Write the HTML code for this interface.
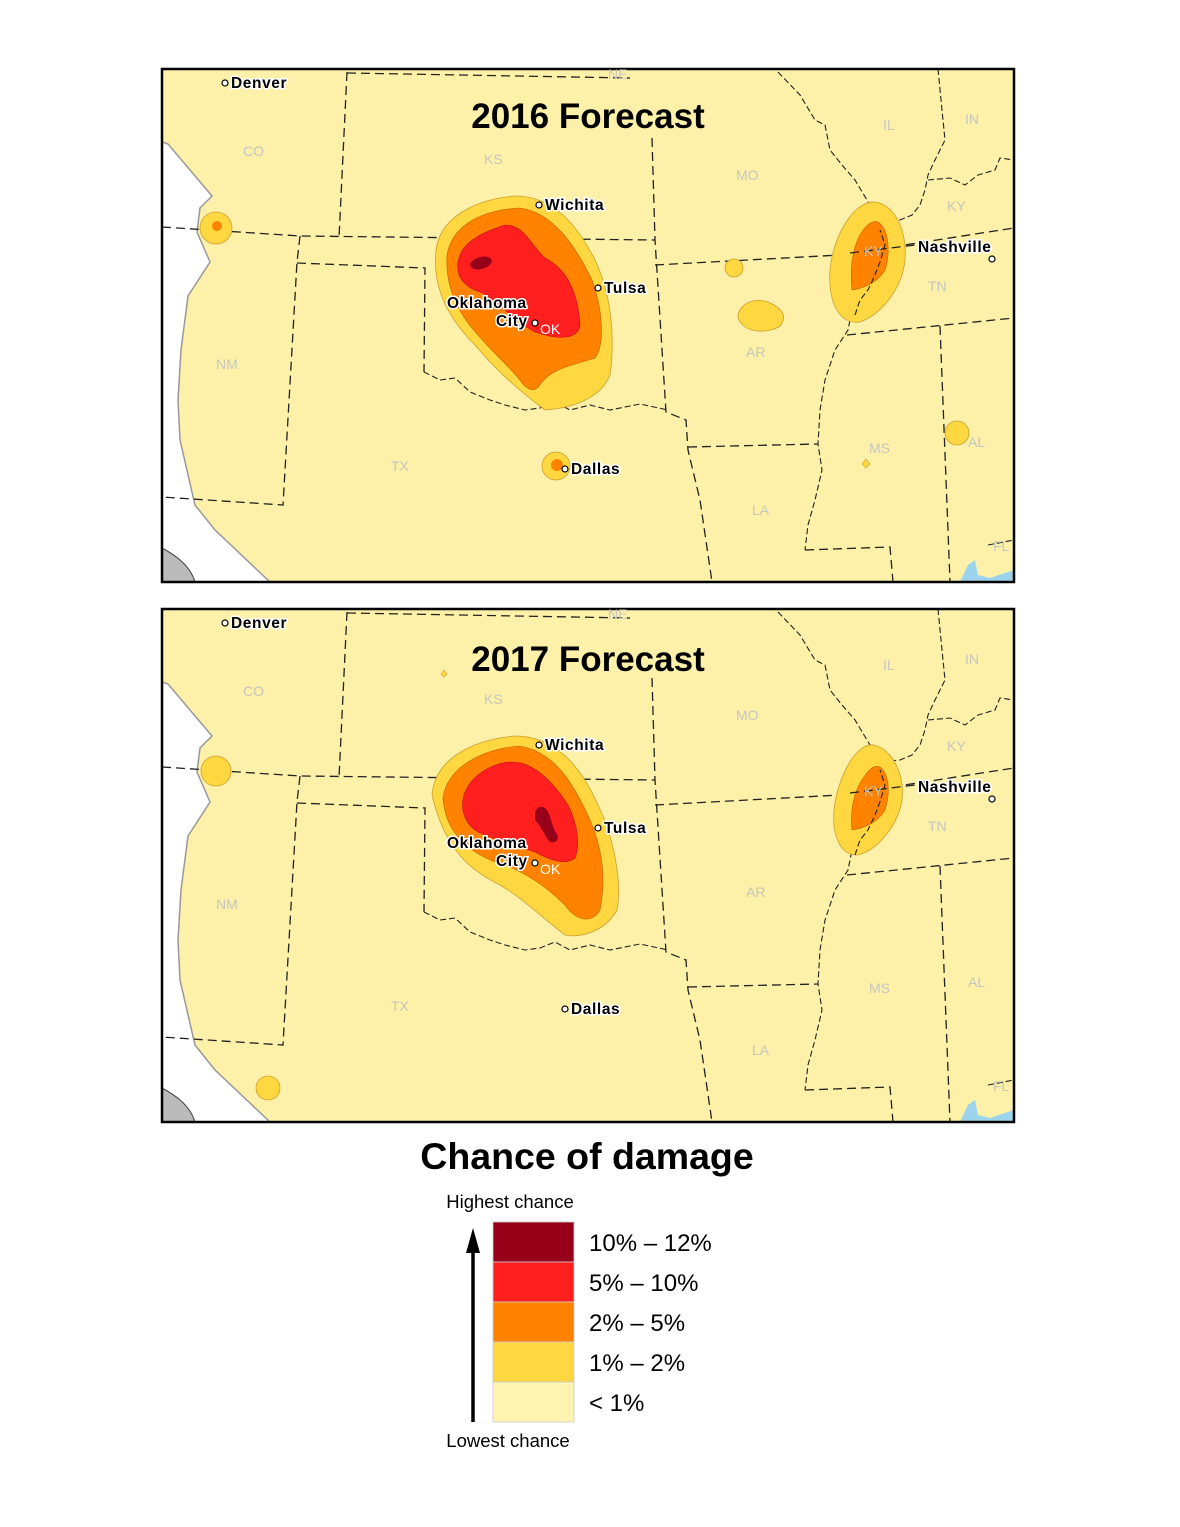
<!DOCTYPE html>
<html><head><meta charset="utf-8"><style>
html,body{margin:0;padding:0;background:#fff}
svg{display:block}
.st{font-family:"Liberation Sans",sans-serif;font-size:14px;fill:#c6c6c0}
.ct{font-family:"Liberation Sans",sans-serif;font-size:15.5px;font-weight:bold;fill:#000;stroke:#fff;stroke-width:3px;paint-order:stroke;letter-spacing:0.6px}
.tt{font-family:"Liberation Sans",sans-serif;font-size:35px;font-weight:bold;fill:#000}
.bd{fill:none;stroke:#222;stroke-width:1.3;stroke-dasharray:9 5}
.jg{fill:none;stroke:#222;stroke-width:1.1;stroke-dasharray:6 3}
.lg{font-family:"Liberation Sans",sans-serif;font-size:24px;fill:#000}
.cy{fill:#fff;stroke:#000;stroke-width:1.2}
</style></head><body>
<svg width="1180" height="1527" viewBox="0 0 1180 1527" xmlns="http://www.w3.org/2000/svg">
<defs><clipPath id="c1"><rect x="162" y="69" width="852" height="513"/></clipPath>
<clipPath id="c2"><rect x="162" y="609" width="852" height="513"/></clipPath></defs>

<!-- MAP 1 -->
<g clip-path="url(#c1)">
<rect x="162" y="69" width="852" height="513" fill="#fdf0a8"/>
<path d="M162,142 L168,144 L212,196 L200,208 L197,232 L210,262 L188,296 L181,350 L178,400 L180,440 L195,505 L215,530 L270,582 L162,582 Z" fill="#fff" stroke="#999" stroke-width="1.5"/>
<path d="M162,548 C175,555 190,565 195,582 L162,582 Z" fill="#bbb" stroke="#444"/>
<path d="M960,582 L968,565 L975,560 L978,575 L990,578 L1014,570 L1014,582 Z" fill="#9cd4ee"/>
<path class="bd" d="M347,72 L339,238"/>
<path class="bd" d="M347,73 L630,78"/>
<path class="bd" d="M162,227 L300,236 L655,240"/>
<path class="bd" d="M300,236 L297,262 L283,505 L162,497"/>
<path class="bd" d="M297,263 L425,268 L424,372"/>
<path class="jg" d="M424,372 L440,380 L455,378 L470,392 L490,400 L505,405 L525,410 L540,408 L555,402 L570,410 L590,405 L610,410 L640,404 L668,410"/>
<path class="bd" d="M652,138 L655,240 L666,412 L686,420 L688,450 L700,500 L712,582"/>
<path class="bd" d="M688,447 L818,444"/>
<path class="bd" d="M655,265 L840,255 L853,253 L1014,228"/>
<path class="jg" d="M778,72 L800,95 L815,120 L825,125 L830,150 L842,165 L855,180 L870,205 L878,222 L868,240 L860,262 L856,290 L852,310 L848,330 L835,350 L825,380 L820,410 L818,444 L822,470 L815,500 L808,525 L805,550"/>
<path class="bd" d="M805,550 L890,547 L893,582"/>
<path class="bd" d="M847,335 L1014,318"/>
<path class="bd" d="M940,326 L950,582"/>
<path class="jg" d="M938,69 L942,110 L945,140 L935,160 L928,175 L925,190 L920,205 L912,215 L900,220 L880,222"/>
<path class="jg" d="M928,180 L950,178 L965,185 L978,175 L995,170 L1000,158 L1014,160"/>
<path class="jg" d="M988,545 L1014,540"/>
<!-- contours 2016 -->
<path d="M436,250 C440,220 470,200 515,196 C550,196 575,220 595,260 C612,295 615,340 610,375 C600,400 570,408 545,410 C525,395 500,375 475,345 C450,320 432,290 436,250 Z" fill="#ffd740" stroke="#c9a030" stroke-width="0.8"/>
<path d="M447,255 C452,225 482,210 520,208 C552,212 575,245 592,280 C603,310 605,345 595,358 C575,365 550,368 540,385 C535,392 528,392 520,380 C505,362 490,350 478,335 C460,315 445,290 447,255 Z" fill="#ff8300" stroke="#c06000" stroke-width="0.6"/>
<path d="M458,262 C462,240 485,232 505,225 C525,225 530,245 545,258 C565,268 578,290 580,325 C578,340 558,340 535,332 C512,320 498,300 480,292 C465,287 456,278 458,262 Z" fill="#ff1f1f" stroke="#c01010" stroke-width="0.6"/>
<ellipse cx="481" cy="263" rx="11" ry="6" transform="rotate(-15 481 263)" fill="#960019"/>
<circle cx="216" cy="228" r="16" fill="#ffd740" stroke="#c9a030" stroke-width="0.8"/>
<circle cx="217" cy="226" r="5" fill="#ff8300"/>
<circle cx="556" cy="466" r="14" fill="#ffd740" stroke="#c9a030" stroke-width="0.8"/>
<circle cx="557" cy="465" r="6" fill="#ff8300"/>
<circle cx="734" cy="268" r="9" fill="#ffd740" stroke="#c9a030" stroke-width="0.8"/>
<path d="M738,318 C738,305 752,297 768,302 C782,308 788,316 780,326 C770,333 745,335 738,318 Z" fill="#ffd740" stroke="#c9a030" stroke-width="0.8"/>
<circle cx="957" cy="433" r="12" fill="#ffd740" stroke="#c9a030" stroke-width="0.8"/>
<path d="M866,459 L870,464 L866,468 L862,464 Z" fill="#ffd740" stroke="#c9a030" stroke-width="0.6"/>
<path d="M875,202 C895,205 907,230 905,260 C902,290 880,315 860,322 C838,325 828,300 830,270 C833,235 855,200 875,202 Z" fill="#ffd740" stroke="#c9a030" stroke-width="0.8"/>
<path d="M878,222 C890,230 890,255 885,270 C878,282 865,288 852,290 C850,270 852,250 860,235 C866,225 872,220 878,222 Z" fill="#ff8300" stroke="#c06000" stroke-width="0.6"/>
<path class="jg" d="M855,315 L860,300 L868,290 L875,275 L880,262 L885,245 L880,230" />
<path class="bd" d="M850,253 L915,245"/>
</g>
<rect x="162" y="69" width="852" height="513" fill="none" stroke="#000" stroke-width="2.5"/>
<g>
<text class="st" x="243" y="156">CO</text><text class="st" x="484" y="164">KS</text><text class="st" x="608" y="79">NE</text>
<text class="st" x="736" y="180">MO</text><text class="st" x="883" y="130">IL</text><text class="st" x="965" y="124">IN</text>
<text class="st" x="947" y="211">KY</text><text class="st" x="928" y="291">TN</text><text class="st" x="864" y="256">KY</text>
<text class="st" x="216" y="369">NM</text><text class="st" x="540" y="334" style="fill:#fff">OK</text>
<text class="st" x="746" y="357">AR</text><text class="st" x="391" y="471">TX</text><text class="st" x="869" y="453">MS</text>
<text class="st" x="968" y="447">AL</text><text class="st" x="752" y="515">LA</text><text class="st" x="993" y="551">FL</text>
<text class="tt" x="588" y="128" text-anchor="middle">2016 Forecast</text>
<circle class="cy" cx="225" cy="83" r="3"/><text class="ct" x="231" y="88">Denver</text>
<circle class="cy" cx="539" cy="205" r="3"/><text class="ct" x="545" y="210">Wichita</text>
<circle class="cy" cx="598" cy="288" r="3"/><text class="ct" x="604" y="293">Tulsa</text>
<text class="ct" x="447" y="308">Oklahoma</text><text class="ct" x="496" y="326">City</text>
<circle class="cy" cx="535" cy="323" r="3"/>
<circle class="cy" cx="565" cy="469" r="3"/><text class="ct" x="571" y="474">Dallas</text>
<text class="ct" x="918" y="252">Nashville</text><circle class="cy" cx="992" cy="259" r="3"/>
</g>

<!-- MAP 2 -->
<g clip-path="url(#c2)">
<g transform="translate(0,540)">
<rect x="162" y="69" width="852" height="513" fill="#fdf0a8"/>
<path d="M162,142 L168,144 L212,196 L200,208 L197,232 L210,262 L188,296 L181,350 L178,400 L180,440 L195,505 L215,530 L270,582 L162,582 Z" fill="#fff" stroke="#999" stroke-width="1.5"/>
<path d="M162,548 C175,555 190,565 195,582 L162,582 Z" fill="#bbb" stroke="#444"/>
<path d="M960,582 L968,565 L975,560 L978,575 L990,578 L1014,570 L1014,582 Z" fill="#9cd4ee"/>
<path class="bd" d="M347,72 L339,238"/>
<path class="bd" d="M347,73 L630,78"/>
<path class="bd" d="M162,227 L300,236 L655,240"/>
<path class="bd" d="M300,236 L297,262 L283,505 L162,497"/>
<path class="bd" d="M297,263 L425,268 L424,372"/>
<path class="jg" d="M424,372 L440,380 L455,378 L470,392 L490,400 L505,405 L525,410 L540,408 L555,402 L570,410 L590,405 L610,410 L640,404 L668,410"/>
<path class="bd" d="M652,138 L655,240 L666,412 L686,420 L688,450 L700,500 L712,582"/>
<path class="bd" d="M688,447 L818,444"/>
<path class="bd" d="M655,265 L840,255 L853,253 L1014,228"/>
<path class="jg" d="M778,72 L800,95 L815,120 L825,125 L830,150 L842,165 L855,180 L870,205 L878,222 L868,240 L860,262 L856,290 L852,310 L848,330 L835,350 L825,380 L820,410 L818,444 L822,470 L815,500 L808,525 L805,550"/>
<path class="bd" d="M805,550 L890,547 L893,582"/>
<path class="bd" d="M847,335 L1014,318"/>
<path class="bd" d="M940,326 L950,582"/>
<path class="jg" d="M938,69 L942,110 L945,140 L935,160 L928,175 L925,190 L920,205 L912,215 L900,220 L880,222"/>
<path class="jg" d="M928,180 L950,178 L965,185 L978,175 L995,170 L1000,158 L1014,160"/>
<path class="jg" d="M988,545 L1014,540"/>
<!-- contours 2017 -->
<path d="M432,255 C435,220 470,200 515,196 C555,196 580,225 598,265 C615,300 622,345 617,370 C605,392 580,398 565,395 C545,380 525,360 500,345 C470,330 445,310 432,255 Z" fill="#ffd740" stroke="#c9a030" stroke-width="0.8"/>
<path d="M443,258 C447,228 480,210 518,206 C552,210 572,240 590,280 C603,310 606,340 600,370 C592,385 575,380 565,365 C550,350 525,330 495,322 C465,310 445,290 443,258 Z" fill="#ff8300" stroke="#c06000" stroke-width="0.6"/>
<path d="M463,260 C465,240 490,222 512,222 C535,222 555,245 568,265 C578,285 580,305 575,318 C565,326 550,320 535,312 C515,305 495,300 478,292 C466,285 461,272 463,260 Z" fill="#ff1f1f" stroke="#c01010" stroke-width="0.6"/>
<path d="M535,273 C537,265 545,265 548,272 C552,280 552,288 557,294 C560,302 552,305 548,300 C543,292 540,285 535,280 Z" fill="#960019"/>
<circle cx="216" cy="231" r="15" fill="#ffd740" stroke="#c9a030" stroke-width="0.8"/>
<circle cx="268" cy="548" r="12" fill="#ffd740" stroke="#c9a030" stroke-width="0.8"/>
<path d="M444,130 L447,134 L444,137 L441,134 Z" fill="#ffd740" stroke="#c9a030" stroke-width="0.6"/>
<path d="M874,205 C893,210 905,235 902,260 C898,285 878,310 858,315 C840,316 832,295 834,270 C837,240 855,202 874,205 Z" fill="#ffd740" stroke="#c9a030" stroke-width="0.8"/>
<path d="M880,227 C890,235 890,255 885,270 C878,282 865,288 852,290 C850,270 854,252 862,240 C868,230 874,224 880,227 Z" fill="#ff8300" stroke="#c06000" stroke-width="0.6"/>
<path class="jg" d="M855,315 L860,300 L868,290 L875,275 L880,262 L885,245 L880,230" />
<path class="bd" d="M850,253 L915,245"/>
</g>
</g>
<rect x="162" y="609" width="852" height="513" fill="none" stroke="#000" stroke-width="2.5"/>
<g transform="translate(0,540)">
<text class="st" x="243" y="156">CO</text><text class="st" x="484" y="164">KS</text><text class="st" x="608" y="79">NE</text>
<text class="st" x="736" y="180">MO</text><text class="st" x="883" y="130">IL</text><text class="st" x="965" y="124">IN</text>
<text class="st" x="947" y="211">KY</text><text class="st" x="928" y="291">TN</text><text class="st" x="864" y="256">KY</text>
<text class="st" x="216" y="369">NM</text><text class="st" x="540" y="334" style="fill:#fff">OK</text>
<text class="st" x="746" y="357">AR</text><text class="st" x="391" y="471">TX</text><text class="st" x="869" y="453">MS</text>
<text class="st" x="968" y="447">AL</text><text class="st" x="752" y="515">LA</text><text class="st" x="993" y="551">FL</text>
<text class="tt" x="588" y="131" text-anchor="middle">2017 Forecast</text>
<circle class="cy" cx="225" cy="83" r="3"/><text class="ct" x="231" y="88">Denver</text>
<circle class="cy" cx="539" cy="205" r="3"/><text class="ct" x="545" y="210">Wichita</text>
<circle class="cy" cx="598" cy="288" r="3"/><text class="ct" x="604" y="293">Tulsa</text>
<text class="ct" x="447" y="308">Oklahoma</text><text class="ct" x="496" y="326">City</text>
<circle class="cy" cx="535" cy="323" r="3"/>
<circle class="cy" cx="565" cy="469" r="3"/><text class="ct" x="571" y="474">Dallas</text>
<text class="ct" x="918" y="252">Nashville</text><circle class="cy" cx="992" cy="259" r="3"/>
</g>

<!-- LEGEND -->
<text x="587" y="1169" text-anchor="middle" font-family="Liberation Sans, sans-serif" font-size="37.5" font-weight="bold">Chance of damage</text>
<text x="510" y="1208" text-anchor="middle" font-family="Liberation Sans, sans-serif" font-size="18.5">Highest chance</text>
<text x="508" y="1447" text-anchor="middle" font-family="Liberation Sans, sans-serif" font-size="18.5">Lowest chance</text>
<line x1="473" y1="1250" x2="473" y2="1422" stroke="#000" stroke-width="3.5"/>
<path d="M466,1253 L473,1228 L480,1253 Z" fill="#000"/>
<g stroke="#ccc" stroke-width="0.8">
<rect x="493" y="1222" width="81" height="40" fill="#960019"/>
<rect x="493" y="1262" width="81" height="40" fill="#ff1f1f"/>
<rect x="493" y="1302" width="81" height="40" fill="#ff8300"/>
<rect x="493" y="1342" width="81" height="40" fill="#ffd740"/>
<rect x="493" y="1382" width="81" height="40" fill="#fff4b0"/>
</g>
<text class="lg" x="589" y="1251">10% – 12%</text>
<text class="lg" x="589" y="1291">5% – 10%</text>
<text class="lg" x="589" y="1331">2% – 5%</text>
<text class="lg" x="589" y="1371">1% – 2%</text>
<text class="lg" x="589" y="1411">&lt; 1%</text>
</svg>
</body></html>
